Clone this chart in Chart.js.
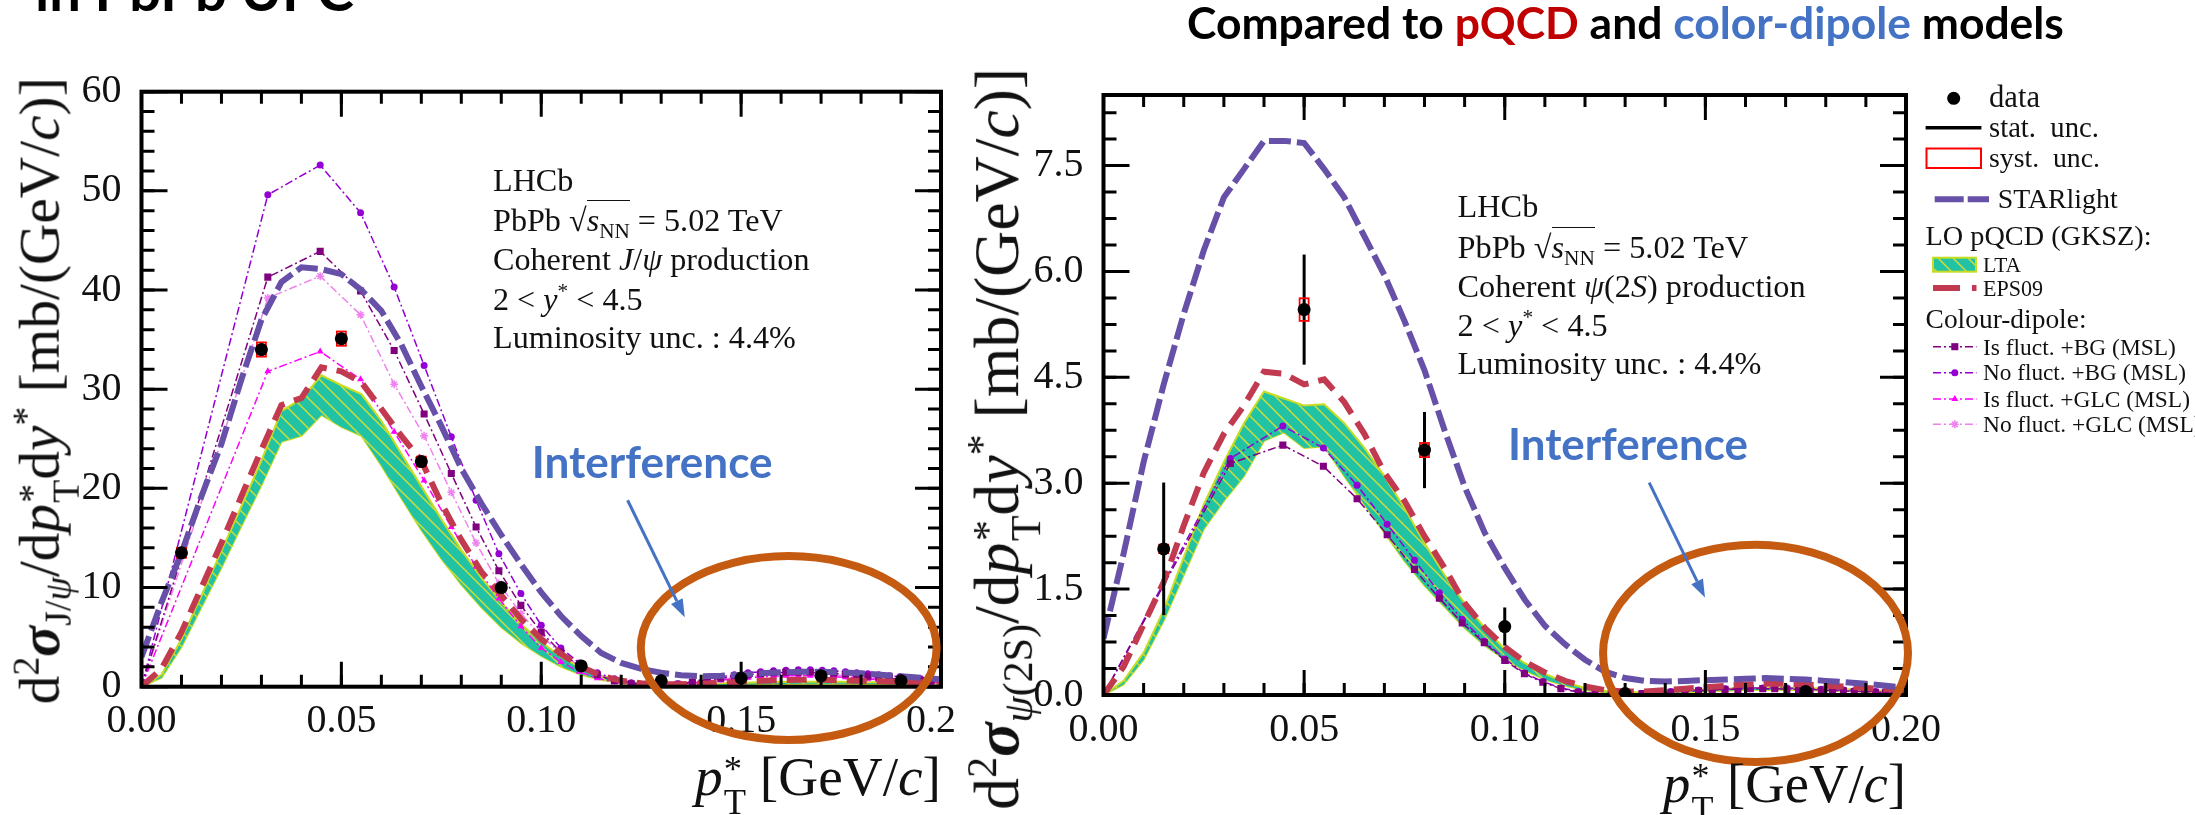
<!DOCTYPE html>
<html>
<head>
<meta charset="utf-8">
<script src="https://cdn.jsdelivr.net/npm/chart.js@4.4.1/dist/chart.umd.min.js"></script>
<style>
  html, body { margin:0; padding:0; background:#fff; }
  #wrap { position:relative; width:2195px; height:815px; overflow:hidden; background:#fff; }
  #cL { position:absolute; left:0; top:0; }
  #cR { position:absolute; left:954px; top:0; background:#fff; }
  .t { position:absolute; white-space:nowrap; line-height:1.15; font-family:"Liberation Serif","DejaVu Serif",serif; color:#111; }
  .t sup, .t sub { font-size:0.66em; line-height:0; }
  .ss { display:inline-flex; flex-direction:column; font-size:0.66em; line-height:0.9; vertical-align:0.38em; margin-left:0.03em; }
  .ov { border-top:1.5px solid #111; padding-top:1px; }
  .sans { font-family: Lato, "Open Sans", "Liberation Sans", sans-serif; font-weight:700; }
</style>
</head>
<body>
<div id="wrap">
  <canvas id="cL" width="954" height="815"></canvas>
  <canvas id="cR" width="1241" height="815"></canvas>
</div>
<script>
// ---------------- DATA ----------------
// common x grids (GeV/c)
const modelX = [0,0.005,0.01,0.015,0.02,0.025,0.03,0.035,0.04,0.045,0.05,0.055,0.06,0.065,0.07,0.075,0.08,0.085,0.09,0.095,0.1,0.105,0.11,0.115,0.12,0.125,0.13,0.135,0.14,0.145,0.15,0.155,0.16,0.165,0.17,0.175,0.18,0.185,0.19,0.195,0.2];
const dipoleX = [0,0.0316,0.0447,0.0548,0.0632,0.0707,0.0775,0.0837,0.0894,0.0949,0.1,0.1049,0.1095,0.114,0.1183,0.1225,0.1265,0.1304,0.1342,0.1378,0.1414,0.1449,0.1483,0.1517,0.1549,0.1581,0.1612,0.1643,0.1673,0.1703,0.1732,0.1761,0.1789,0.1817,0.1844,0.1871,0.1897,0.1924,0.1949,0.1975,0.2];
const ptTicks = [0,0.05,0.1,0.15,0.2];
const jpsiYTicks = [0,10,20,30,40,50,60];
const psiYTicks = [0,1.5,3,4.5,6,7.5];

// J/psi panel
const jpsiDataX = [0.01,0.03,0.05,0.07,0.09,0.11,0.13,0.15,0.17,0.19];
const jpsiDataY = [13.5,34.0,35.1,22.7,10.0,2.1,0.6,0.85,1.1,0.6];
const jpsiStat  = [0.5,0.6,0.6,0.5,0.35,0.15,0.08,0.1,0.12,0.08];
const jpsiSyst  = [0.5,0.72,0.72,0.5,0.3,0.1,0.05,0.06,0.08,0.05];
const jpsiStarlight = [3,8.5,13.5,19.2,24.5,31,37,40.8,42.3,42.1,41.6,40,37.9,34.5,30.3,26.3,22,18.5,15.3,12.3,9.5,7.1,5.1,3.4,2.4,1.8,1.4,1.15,1.05,1.1,1.2,1.35,1.45,1.5,1.5,1.45,1.35,1.2,1.05,0.9,0.75];
const jpsiEPS09 = [0,1.8,5.5,10,14.5,19.2,23.9,28.4,29.1,32.2,31.8,30.7,28.0,25.3,22.8,18.5,14.8,11.6,9.2,6.8,4.8,3.3,2.0,1.1,0.6,0.35,0.25,0.25,0.3,0.4,0.5,0.6,0.65,0.7,0.7,0.65,0.6,0.55,0.5,0.45,0.4];
const jpsiLTAhi = [0,1.2,4.8,9.2,13.7,18.2,22.8,27.8,29.0,31.4,30.4,29.5,26.8,23.5,20.2,16.9,13.8,11.0,8.5,6.3,4.5,3.0,1.9,1.1,0.6,0.35,0.25,0.25,0.3,0.35,0.4,0.45,0.5,0.5,0.5,0.5,0.45,0.45,0.4,0.35,0.3];
const jpsiLTAlo = [0,0.9,4.0,8.0,12.0,16.2,20.3,24.7,25.3,27.4,26.2,25.3,22.3,19.0,15.8,12.9,10.3,8.0,6.0,4.4,3.1,2.0,1.2,0.7,0.35,0.2,0.12,0.1,0.12,0.15,0.2,0.25,0.28,0.3,0.3,0.3,0.28,0.25,0.22,0.2,0.18];
const jpsiIsFlBG  = [0,41.3,43.9,39.9,33.9,27.5,21.5,16.1,11.7,8.2,5.5,3.5,2.1,1.2,0.6,0.3,0.15,0.15,0.25,0.45,0.65,0.85,1.05,1.2,1.3,1.4,1.45,1.45,1.45,1.4,1.35,1.25,1.15,1.05,0.95,0.85,0.75,0.7,0.6,0.55,0.5];
const jpsiNoFlBG  = [0,49.6,52.6,47.8,40.3,32.4,25.2,18.8,13.4,9.4,6.2,3.9,2.4,1.4,0.8,0.4,0.25,0.2,0.3,0.5,0.8,1.0,1.2,1.4,1.5,1.6,1.65,1.7,1.7,1.65,1.6,1.5,1.4,1.3,1.2,1.1,1.0,0.9,0.8,0.7,0.6];
const jpsiIsFlGLC = [0,31.8,33.8,31.0,25.7,20.8,16.1,12.1,8.9,6.1,3.9,2.5,1.5,0.85,0.45,0.2,0.1,0.1,0.2,0.35,0.5,0.65,0.8,0.9,1.0,1.05,1.1,1.1,1.1,1.05,1.0,0.95,0.9,0.8,0.7,0.65,0.6,0.55,0.5,0.45,0.4];
const jpsiNoFlGLC = [0,39.2,41.4,37.5,30.5,25.3,19.6,14.5,10.4,7.4,5.1,3.4,2.1,1.2,0.65,0.3,0.15,0.1,0.2,0.35,0.55,0.75,0.9,1.05,1.15,1.25,1.3,1.3,1.3,1.25,1.2,1.1,1.0,0.9,0.8,0.7,0.6,0.55,0.5,0.45,0.4];

// psi(2S) panel
const psiDataX = [0.015,0.05,0.08,0.1,0.13,0.175];
const psiDataY = [2.07,5.46,3.47,0.97,0.02,0.05];
const psiStat  = [0.94,0.78,0.54,0.27,0.03,0.04];
const psiSyst  = [0.06,0.16,0.1,0.04,0.01,0.01];
const psiStarlight = [0.8,2.0,3.3,4.4,5.4,6.3,7.05,7.45,7.85,7.85,7.82,7.45,7.05,6.5,5.95,5.3,4.6,3.75,2.95,2.3,1.8,1.35,0.98,0.72,0.5,0.33,0.24,0.2,0.19,0.2,0.21,0.22,0.23,0.24,0.23,0.22,0.2,0.18,0.16,0.13,0.1];
const psiEPS09 = [0,0.4,1.0,1.6,2.4,3.15,3.7,4.1,4.58,4.55,4.4,4.47,4.15,3.7,3.15,2.75,2.25,1.8,1.3,0.95,0.68,0.47,0.32,0.2,0.12,0.07,0.05,0.05,0.07,0.09,0.11,0.13,0.15,0.16,0.16,0.15,0.13,0.12,0.1,0.08,0.07];
const psiLTAhi = [0,0.2,0.6,1.2,1.95,2.7,3.3,3.85,4.3,4.2,4.1,4.12,3.85,3.5,3.1,2.65,2.15,1.7,1.3,0.95,0.65,0.45,0.3,0.18,0.1,0.06,0.04,0.04,0.05,0.06,0.08,0.09,0.1,0.1,0.1,0.1,0.09,0.08,0.07,0.06,0.05];
const psiLTAlo = [0,0.15,0.5,1.05,1.7,2.35,2.75,3.1,3.6,3.72,3.5,3.52,3.1,2.7,2.3,1.9,1.55,1.25,0.95,0.7,0.5,0.35,0.22,0.13,0.07,0.04,0.03,0.03,0.03,0.04,0.05,0.06,0.07,0.07,0.07,0.07,0.06,0.06,0.05,0.04,0.04];
const psiNoFlBG = [0,3.35,3.81,3.5,2.97,2.42,1.91,1.45,1.07,0.76,0.51,0.31,0.19,0.1,0.05,0.02,0.01,0.01,0.02,0.03,0.05,0.06,0.07,0.08,0.09,0.1,0.1,0.1,0.1,0.1,0.09,0.09,0.08,0.07,0.07,0.06,0.05,0.05,0.04,0.04,0.03];
const psiIsFlBG = [0,3.28,3.54,3.24,2.78,2.27,1.78,1.37,1.02,0.74,0.49,0.3,0.18,0.09,0.04,0.02,0.01,0.01,0.02,0.03,0.04,0.05,0.06,0.07,0.08,0.08,0.09,0.09,0.09,0.08,0.08,0.08,0.07,0.06,0.06,0.05,0.05,0.04,0.04,0.03,0.03];

// ---------------- STYLE ----------------
const C = {
  star: '#6650A8', eps: '#C23A50', lta: '#22C2A5', ltaEdge: '#C8DC22', hatch: '#CDDD3A',
  isBG: '#800080', noBG: '#9400D3', isGLC: '#FF00FF', noGLC: '#EE82EE', blue: '#4472C4', orange: '#C55A11'
};
const DIPDASH = [8,3,2,3];

function makeHatch() {
  const s = 15;
  const c = document.createElement('canvas'); c.width = s; c.height = s;
  const g = c.getContext('2d');
  g.fillStyle = C.lta; g.fillRect(0, 0, s, s);
  g.strokeStyle = C.hatch; g.lineWidth = 1.5;
  g.beginPath();
  g.moveTo(-s, 0); g.lineTo(s * 0.2, s * 1.2);
  g.moveTo(-1, -1); g.lineTo(s + 1, s + 1);
  g.moveTo(s, 0); g.lineTo(2 * s, s);
  g.moveTo(s * 0.8, -s * 0.2); g.lineTo(2 * s, s);
  g.stroke();
  return g.createPattern(c, 'repeat');
}
const hatch = makeHatch();

function pts(xs, ys) { return xs.map((x, i) => ({ x: x, y: ys[i] })); }
function lineDs(label, xs, ys, st) {
  return Object.assign({ label: label, data: pts(xs, ys), showLine: true, pointRadius: 0, tension: 0, fill: false, borderJoinStyle: 'miter' }, st);
}
function dipoleDs(label, xs, ys, color, style, r) {
  return lineDs(label, xs, ys, { borderColor: color, borderWidth: 1.5, borderDash: DIPDASH, pointStyle: style, pointRadius: r,
    pointBackgroundColor: color, pointBorderColor: color, pointBorderWidth: style === 'star' ? 1.5 : 0, order: 3 });
}

function arrow(ctx, x1, y1, x2, y2) {
  const a = Math.atan2(y2 - y1, x2 - x1), L = 18, W = 6.5;
  const bx = x2 - L * Math.cos(a), by = y2 - L * Math.sin(a);
  ctx.strokeStyle = C.blue; ctx.fillStyle = C.blue; ctx.lineWidth = 3;
  ctx.beginPath(); ctx.moveTo(x1, y1); ctx.lineTo(bx, by); ctx.stroke();
  ctx.beginPath(); ctx.moveTo(x2, y2);
  ctx.lineTo(bx - W * Math.sin(a), by + W * Math.cos(a));
  ctx.lineTo(bx + W * Math.sin(a), by - W * Math.cos(a));
  ctx.closePath(); ctx.fill();
}

function makeDecor(cfg) {
  return {
    id: 'decor',
    beforeDatasetDraw(chart, args) {
      const ds = chart.data.datasets[args.index];
      if (!ds.isData) return;
      const { ctx, scales: { x, y } } = chart;
      const e = cfg.err;
      ctx.save();
      for (let i = 0; i < e.x.length; i++) {
        const px = x.getPixelForValue(e.x[i]);
        ctx.strokeStyle = '#000'; ctx.lineWidth = 3;
        ctx.beginPath();
        ctx.moveTo(px, y.getPixelForValue(e.y[i] - e.stat[i]));
        ctx.lineTo(px, y.getPixelForValue(e.y[i] + e.stat[i]));
        ctx.stroke();
        const y1 = y.getPixelForValue(e.y[i] + e.syst[i]), y2 = y.getPixelForValue(e.y[i] - e.syst[i]);
        ctx.strokeStyle = '#ff0000'; ctx.lineWidth = 1.8;
        ctx.strokeRect(px - 4.5, y1, 9, y2 - y1);
      }
      ctx.restore();
    },
    afterDatasetsDraw(chart) {
      const { ctx, chartArea: a, scales: { x, y } } = chart;
      ctx.save();
      ctx.strokeStyle = '#000'; ctx.lineWidth = 3; ctx.lineCap = 'butt';
      const tx = (v, len) => { const p = x.getPixelForValue(v); ctx.beginPath(); ctx.moveTo(p, a.bottom); ctx.lineTo(p, a.bottom - len); ctx.moveTo(p, a.top); ctx.lineTo(p, a.top + len); ctx.stroke(); };
      const ty = (v, len) => { const p = y.getPixelForValue(v); ctx.beginPath(); ctx.moveTo(a.left, p); ctx.lineTo(a.left + len, p); ctx.moveTo(a.right, p); ctx.lineTo(a.right - len, p); ctx.stroke(); };
      for (let i = 0; ; i++) { const v = x.min + i * cfg.xMinor; if (v > x.max + 1e-9) break; tx(v, 12); }
      for (let i = 0; ; i++) { const v = y.min + i * cfg.yMinor; if (v > y.max + 1e-9) break; ty(v, 13); }
      ptTicks.forEach(v => tx(v, 25));
      cfg.yMajor.forEach(v => ty(v, 26));
      ctx.lineWidth = 4;
      ctx.strokeRect(a.left, a.top, a.right - a.left, a.bottom - a.top);
      ctx.restore();
    },
    afterDraw(chart) {
      const { ctx, scales: { x, y } } = chart;
      ctx.save();
      const el = cfg.ellipse;
      const cx = x.getPixelForValue(el.x), cy = y.getPixelForValue(el.y);
      const rx = x.getPixelForValue(el.x + el.rx) - cx, ry = cy - y.getPixelForValue(el.y + el.ry);
      ctx.strokeStyle = C.orange; ctx.lineWidth = 8;
      ctx.beginPath(); ctx.ellipse(cx, cy, rx, ry, 0, 0, Math.PI * 2); ctx.stroke();
      const ar = cfg.arrow;
      arrow(ctx, x.getPixelForValue(ar[0]), y.getPixelForValue(ar[1]), x.getPixelForValue(ar[2]), y.getPixelForValue(ar[3]));
      if (cfg.legend) drawLegend(ctx, cfg.offsetX);
      ctx.restore();
    }
  };
}

function drawLegend(ctx, ox) {
  const dp = Chart.helpers.drawPoint;
  ctx.save();
  ctx.translate(-ox, 0);
  // data
  ctx.fillStyle = '#000';
  ctx.beginPath(); ctx.arc(1953.7, 98.3, 6.5, 0, Math.PI * 2); ctx.fill();
  // stat
  ctx.strokeStyle = '#000'; ctx.lineWidth = 3.5;
  ctx.beginPath(); ctx.moveTo(1925.6, 127.7); ctx.lineTo(1981.4, 127.7); ctx.stroke();
  // syst
  ctx.strokeStyle = '#ff0000'; ctx.lineWidth = 2;
  ctx.strokeRect(1926.5, 148.5, 54.5, 19.5);
  // STARlight
  ctx.strokeStyle = C.star; ctx.lineWidth = 6; ctx.setLineDash([29, 4]);
  ctx.beginPath(); ctx.moveTo(1934.7, 199.3); ctx.lineTo(1989, 199.3); ctx.stroke();
  // LTA
  ctx.setLineDash([]);
  ctx.fillStyle = hatch; ctx.fillRect(1933, 257.7, 43, 14);
  ctx.strokeStyle = C.ltaEdge; ctx.lineWidth = 2; ctx.strokeRect(1933, 257.7, 43, 14);
  // EPS09
  ctx.strokeStyle = C.eps; ctx.lineWidth = 6; ctx.setLineDash([27, 12]);
  ctx.beginPath(); ctx.moveTo(1933, 288); ctx.lineTo(1976.5, 288); ctx.stroke();
  // dipoles
  const rows = [[C.isBG, 'rect', 5, 346.7], [C.noBG, 'circle', 3.5, 372.7], [C.isGLC, 'triangle', 4, 399], [C.noGLC, 'star', 4, 424.3]];
  rows.forEach(r => {
    ctx.strokeStyle = r[0]; ctx.fillStyle = r[0]; ctx.lineWidth = 1.5; ctx.setLineDash(DIPDASH);
    ctx.beginPath(); ctx.moveTo(1933, r[3]); ctx.lineTo(1976.5, r[3]); ctx.stroke();
    ctx.setLineDash([]);
    dp(ctx, { pointStyle: r[1], radius: r[2], rotation: 0, borderWidth: r[1] === 'star' ? 1.5 : 0 }, 1954.8, r[3]);
  });
  ctx.restore();
}

function chartOptions(o) {
  return {
    responsive: false, animation: false, devicePixelRatio: 1,
    layout: { padding: o.padding, autoPadding: false },
    plugins: { legend: { display: false }, tooltip: { enabled: false } },
    scales: {
      x: {
        type: 'linear', min: 0, max: 0.2,
        grid: { display: false, drawTicks: false }, border: { display: false },
        afterFit: s => { s.height = o.xh; s.paddingLeft = 0; s.paddingRight = 0; },
        afterBuildTicks: s => { s.ticks = ptTicks.map(v => ({ value: v })); },
        ticks: { font: { family: 'Liberation Serif', size: 40, lineHeight: 1 }, color: '#111', padding: 15, maxRotation: 0, minRotation: 0, autoSkip: false,
          callback: v => Number(v).toFixed(2) }
      },
      y: {
        type: 'linear', min: o.ymin, max: o.ymax,
        grid: { display: false, drawTicks: false }, border: { display: false },
        afterFit: s => { s.width = o.yw; s.paddingTop = 0; s.paddingBottom = 0; },
        afterBuildTicks: s => { s.ticks = o.yTicks.map(v => ({ value: v })); },
        ticks: { font: { family: 'Liberation Serif', size: 40, lineHeight: 1 }, color: '#111', padding: 20, autoSkip: false,
          callback: v => Number(v).toFixed(o.yDec) }
      }
    }
  };
}

// ---------------- LEFT CHART (J/psi) ----------------
new Chart(document.getElementById('cL'), {
  type: 'scatter',
  data: { datasets: [
    { label: 'data', isData: true, data: pts(jpsiDataX, jpsiDataY), pointRadius: 6.5, pointBackgroundColor: '#000', pointBorderWidth: 0, order: 0 },
    lineDs('STARlight', modelX, jpsiStarlight, { borderColor: C.star, borderWidth: 6, borderDash: [22, 6], order: 1 }),
    lineDs('EPS09', modelX, jpsiEPS09, { borderColor: C.eps, borderWidth: 6, borderDash: [20, 10], order: 2 }),
    dipoleDs('Is fluct. +BG (MSL)', dipoleX, jpsiIsFlBG, C.isBG, 'rect', 5),
    dipoleDs('No fluct. +BG (MSL)', dipoleX, jpsiNoFlBG, C.noBG, 'circle', 3.5),
    dipoleDs('Is fluct. +GLC (MSL)', dipoleX, jpsiIsFlGLC, C.isGLC, 'triangle', 4),
    dipoleDs('No fluct. +GLC (MSL)', dipoleX, jpsiNoFlGLC, C.noGLC, 'star', 4),
    lineDs('LTA low', modelX, jpsiLTAlo, { borderColor: C.ltaEdge, borderWidth: 2, order: 5 }),
    lineDs('LTA', modelX, jpsiLTAhi, { borderColor: C.ltaEdge, borderWidth: 2, fill: '-1', backgroundColor: hatch, order: 4 })
  ]},
  options: chartOptions({ padding: { top: 91.7, right: 13, left: 0, bottom: 0 }, xh: 128.3, yw: 141.5, ymin: 0, ymax: 60, yTicks: jpsiYTicks, yDec: 0 }),
  plugins: [makeDecor({
    err: { x: jpsiDataX, y: jpsiDataY, stat: jpsiStat, syst: jpsiSyst },
    xMinor: 0.01, yMinor: 2, yMajor: jpsiYTicks,
    ellipse: { x: 0.1619, y: 3.9, rx: 0.037, ry: 9.27 },
    arrow: [0.1216, 18.8, 0.1359, 7.0],
    legend: false, offsetX: 0
  })]
});

// ---------------- RIGHT CHART (psi(2S)) ----------------
new Chart(document.getElementById('cR'), {
  type: 'scatter',
  data: { datasets: [
    { label: 'data', isData: true, data: pts(psiDataX, psiDataY), pointRadius: 6.5, pointBackgroundColor: '#000', pointBorderWidth: 0, order: 0 },
    lineDs('STARlight', modelX, psiStarlight, { borderColor: C.star, borderWidth: 6, borderDash: [22, 6], order: 1 }),
    lineDs('EPS09', modelX, psiEPS09, { borderColor: C.eps, borderWidth: 6, borderDash: [20, 10], order: 2 }),
    dipoleDs('Is fluct. +BG (MSL)', dipoleX, psiIsFlBG, C.isBG, 'rect', 5),
    dipoleDs('No fluct. +BG (MSL)', dipoleX, psiNoFlBG, C.noBG, 'circle', 3.5),
    lineDs('LTA low', modelX, psiLTAlo, { borderColor: C.ltaEdge, borderWidth: 2, order: 5 }),
    lineDs('LTA', modelX, psiLTAhi, { borderColor: C.ltaEdge, borderWidth: 2, fill: '-1', backgroundColor: hatch, order: 4 })
  ]},
  options: chartOptions({ padding: { top: 95, right: 289, left: 0, bottom: 0 }, xh: 120, yw: 149.5, ymin: 0, ymax: 8.5, yTicks: psiYTicks, yDec: 1 }),
  plugins: [makeDecor({
    err: { x: psiDataX, y: psiDataY, stat: psiStat, syst: psiSyst },
    xMinor: 0.01, yMinor: 0.375, yMajor: psiYTicks,
    ellipse: { x: 0.1625, y: 0.59, rx: 0.038, ry: 1.54 },
    arrow: [0.136, 3.01, 0.1499, 1.38],
    legend: true, offsetX: 954
  })]
});

// ---------------- TEXT ----------------
const wrap = document.getElementById('wrap');
function addText(html, o) {
  const el = document.createElement('div');
  el.className = 't' + (o.cls ? ' ' + o.cls : '');
  el.innerHTML = html;
  el.style.fontSize = o.size + 'px';
  if (o.color) el.style.color = o.color;
  el.style.left = '0px'; el.style.top = '0px';
  wrap.appendChild(el);
  if (o.width) {
    const w0 = el.getBoundingClientRect().width;
    el.style.fontSize = (o.size * o.width / w0) + 'px';
  }
  const r = el.getBoundingClientRect();
  const w = r.width, h = r.height;
  if (o.rotate) {
    el.style.left = (o.cx - w / 2) + 'px';
    el.style.top = (o.cy - h / 2) + 'px';
    el.style.transform = 'rotate(-90deg)';
    return el;
  }
  const probe = document.createElement('span');
  probe.style.cssText = 'display:inline-block;width:0;height:0;';
  el.appendChild(probe);
  const base = probe.offsetTop;
  el.removeChild(probe);
  el.style.top = (o.baseline - base) + 'px';
  el.style.left = (o.right !== undefined ? o.right - w : o.left) + 'px';
  return el;
}
const SS = '<span class="ss"><span>*</span><span>T</span></span>';

// slide titles
addText('in PbPb UPC', { cls: 'sans', size: 50, width: 319, left: 35, baseline: 11, color: '#000' });
addText('Compared to <span style="color:#C00000">pQCD</span> and <span style="color:#4472C4">color-dipole</span> models',
  { cls: 'sans', size: 38, width: 877, left: 1187, baseline: 39, color: '#000' });

// axis titles
addText('d<sup>2</sup><b><i>σ</i></b><sub>J/<i>ψ</i></sub>/d<i>p</i>' + SS + 'd<i>y</i><sup>*</sup> [mb/(GeV/<i>c</i>)]',
  { size: 44, width: 627, rotate: true, cx: 44, cy: 391 });
addText('d<sup>2</sup><b><i>σ</i></b><sub><i>ψ</i>(2S)</sub>/d<i>p</i>' + SS + 'd<i>y</i><sup>*</sup> [mb/(GeV/<i>c</i>)]',
  { size: 44, width: 742, rotate: true, cx: 1003, cy: 439 });
addText('<i>p</i>' + SS + ' [GeV/<i>c</i>]', { size: 44, width: 246, right: 941, baseline: 795 });
addText('<i>p</i>' + SS + ' [GeV/<i>c</i>]', { size: 44, width: 243, right: 1906, baseline: 802 });

// in-plot annotations
function annBlock(left, bases, proc, lumW) {
  const lum = addText('Luminosity unc. : 4.4%', { size: 34, width: lumW, left: left, baseline: bases[4] });
  const fs = parseFloat(lum.style.fontSize);
  addText('LHCb', { size: fs, left: left, baseline: bases[0] });
  addText('PbPb √<span class="ov"><i>s</i><sub>NN</sub></span> = 5.02 TeV', { size: fs, left: left, baseline: bases[1] });
  addText('Coherent ' + proc + ' production', { size: fs, left: left, baseline: bases[2] });
  addText('2 &lt; <i>y</i><sup>*</sup> &lt; 4.5', { size: fs, left: left, baseline: bases[3] });
}
annBlock(493, [191, 231, 270, 310, 348], '<i>J</i>/<i>ψ</i>', 303);
annBlock(1457.6, [217, 258, 297, 336, 374], '<i>ψ</i>(2<i>S</i>)', 304);

addText('Interference', { cls: 'sans', size: 44, width: 241, left: 531.7, baseline: 478, color: C.blue });
addText('Interference', { cls: 'sans', size: 44, width: 240, left: 1508, baseline: 460, color: C.blue });

// legend texts
const LG = [
  ['data', 1989, 106.7, 51], ['stat.&nbsp; unc.', 1989, 137.3, 110], ['syst.&nbsp; unc.', 1989, 167.3, 111],
  ['STARlight', 1997.7, 208.3, 120], ['LO pQCD (GKSZ):', 1925.6, 245, 226], ['LTA', 1983, 271.7, 38],
  ['EPS09', 1983, 296, 60], ['Colour-dipole:', 1925.6, 328.3, 161], ['Is fluct. +BG (MSL)', 1983, 355, 193],
  ['No fluct. +BG (MSL)', 1983, 380.3, 203], ['Is fluct. +GLC (MSL)', 1983, 406.7, 207]
];
let lastFs = 20;
LG.forEach(l => { const e = addText(l[0], { size: 24, width: l[3], left: l[1], baseline: l[2] }); lastFs = parseFloat(e.style.fontSize); });
addText('No fluct. +GLC (MSL)', { size: lastFs, left: 1983, baseline: 432.3 });
</script>
</body>
</html>
